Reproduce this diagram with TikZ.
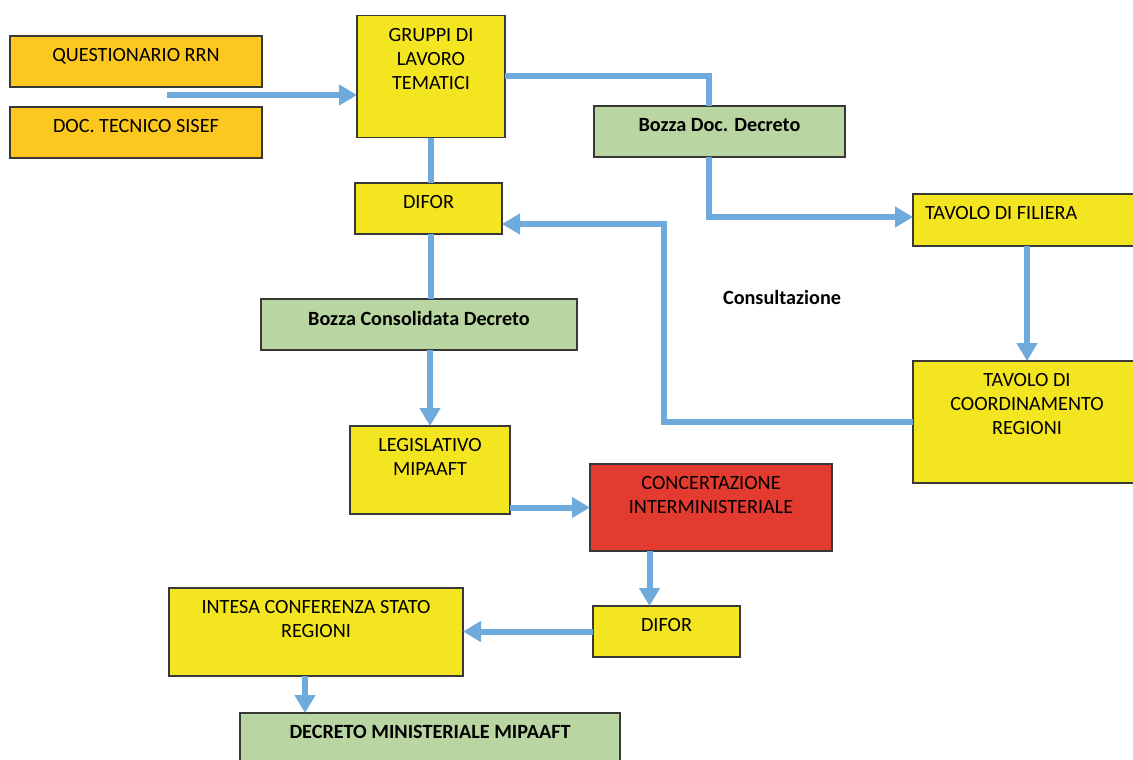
\documentclass[tikz,border=0pt]{standalone}
\usepackage{fontspec}
\setmainfont{Carlito}
\usepackage{tikz}
\usetikzlibrary{arrows.meta,positioning}
\definecolor{boxorange}{HTML}{FCC820}
\definecolor{boxyellow}{HTML}{F3E520}
\definecolor{boxgreen}{HTML}{B9D6A2}
\definecolor{boxred}{HTML}{E43B30}
\definecolor{flowblue}{HTML}{6EAADC}
\definecolor{boxline}{HTML}{383838}

\begin{document}
\begin{tikzpicture}[
x=1pt, y=-1pt,
font=\fontsize{20.2}{24}\selectfont,
box/.style={draw=boxline, line width=1.3pt, anchor=north west, inner sep=0pt, outer sep=0pt},
qbox/.style={box, fill=boxorange},
ybox/.style={box, fill=boxyellow},
gbox/.style={box, fill=boxgreen},
rbox/.style={box, fill=boxred},
txt/.style={anchor=north, align=center, inner sep=0pt, yshift=-12.5pt},
btxt/.style={txt, font=\fontsize{20.2}{24}\selectfont\bfseries},
flow/.style={draw=flowblue, line width=6pt},
flowarrow/.style={flow, -{Triangle[length=18pt,width=20pt]}}
]
    % Page frame
    \useasboundingbox (0,0) rectangle (1133,760);

    % Draw boxes
    \node[qbox, minimum width=252, minimum height=51, label={[txt]north:QUESTIONARIO RRN}] (quest) at (10,36) {};
    \node[qbox, minimum width=252, minimum height=51, label={[txt]north:DOC. TECNICO SISEF}] (sisef) at (10,107) {};
    \node[ybox, minimum width=148, minimum height=122, label={[txt]north:GRUPPI DI\\LAVORO\\TEMATICI}] (gruppi) at (357,15.5) {};
    \node[gbox, minimum width=251, minimum height=51, label={[btxt]north:Bozza Doc. Decreto}] (bozzadoc) at (594,106) {};
    \node[ybox, minimum width=147, minimum height=51, label={[txt]north:DIFOR}] (difor) at (355,183) {};
    \node[ybox, minimum width=228, minimum height=52, label={[txt, anchor=north west, xshift=12pt]north west:TAVOLO DI FILIERA}] (filiera) at (913,194) {};
    \node[gbox, minimum width=316, minimum height=51, label={[btxt]north:Bozza Consolidata Decreto}] (bozzacons) at (261,299) {};
    \node[ybox, minimum width=228, minimum height=122, label={[txt]north:TAVOLO DI\\COORDINAMENTO\\REGIONI}] (coord) at (913,361) {};
    \node[ybox, minimum width=160, minimum height=88, label={[txt]north:LEGISLATIVO\\MIPAAFT}] (legis) at (350,426) {};
    \node[rbox, minimum width=242, minimum height=87, label={[txt]north:CONCERTAZIONE\\INTERMINISTERIALE}] (conc) at (590,464) {};
    \node[ybox, minimum width=147, minimum height=51, label={[txt]north:DIFOR}] (difor2) at (593,606) {};
    \node[ybox, minimum width=294, minimum height=88, label={[txt]north:INTESA CONFERENZA STATO\\REGIONI}] (intesa) at (169,588) {};
    \node[gbox, minimum width=380, minimum height=52, label={[btxt]north:DECRETO MINISTERIALE MIPAAFT}] (decreto) at (240,713) {};

    \node[font=\fontsize{20.2}{24}\selectfont\bfseries] (consult) at (782,297) {Consultazione};

    % Draw connectors
    \coordinate (input) at (167,95);
    \coordinate (ret) at (664,300);

    \draw[flowarrow] (input) -- (input -| gruppi.west);
    \draw[flow] (gruppi.east) -| ([xshift=-10.5pt]bozzadoc.north);
    \draw[flowarrow] ([xshift=-10.5pt]bozzadoc.south) |- ([yshift=3pt]filiera.west);
    \draw[flowarrow] (filiera.south) -- (coord.north);
    \draw[flowarrow] (coord.west) -| (ret) |- ([yshift=-15.5pt]difor.east);
    \draw[flow] (gruppi.south) -- (gruppi.south |- difor.north);
    \draw[flow] (gruppi.south |- difor.south) -- (gruppi.south |- bozzacons.north);
    \draw[flowarrow] (legis.north |- bozzacons.south) -- (legis.north);
    \draw[flowarrow] (legis.east |- conc.west) -- (conc.west);
    \draw[flowarrow] ([xshift=-17pt]difor2.north |- conc.south) -- ([xshift=-17pt]difor2.north);
    \draw[flowarrow] (difor2.west) -- (difor2.west -| intesa.east);
    \draw[flowarrow] ([xshift=-11pt]intesa.south) -- ([xshift=-11pt]intesa.south |- decreto.north);

\end{tikzpicture}
\end{document}
